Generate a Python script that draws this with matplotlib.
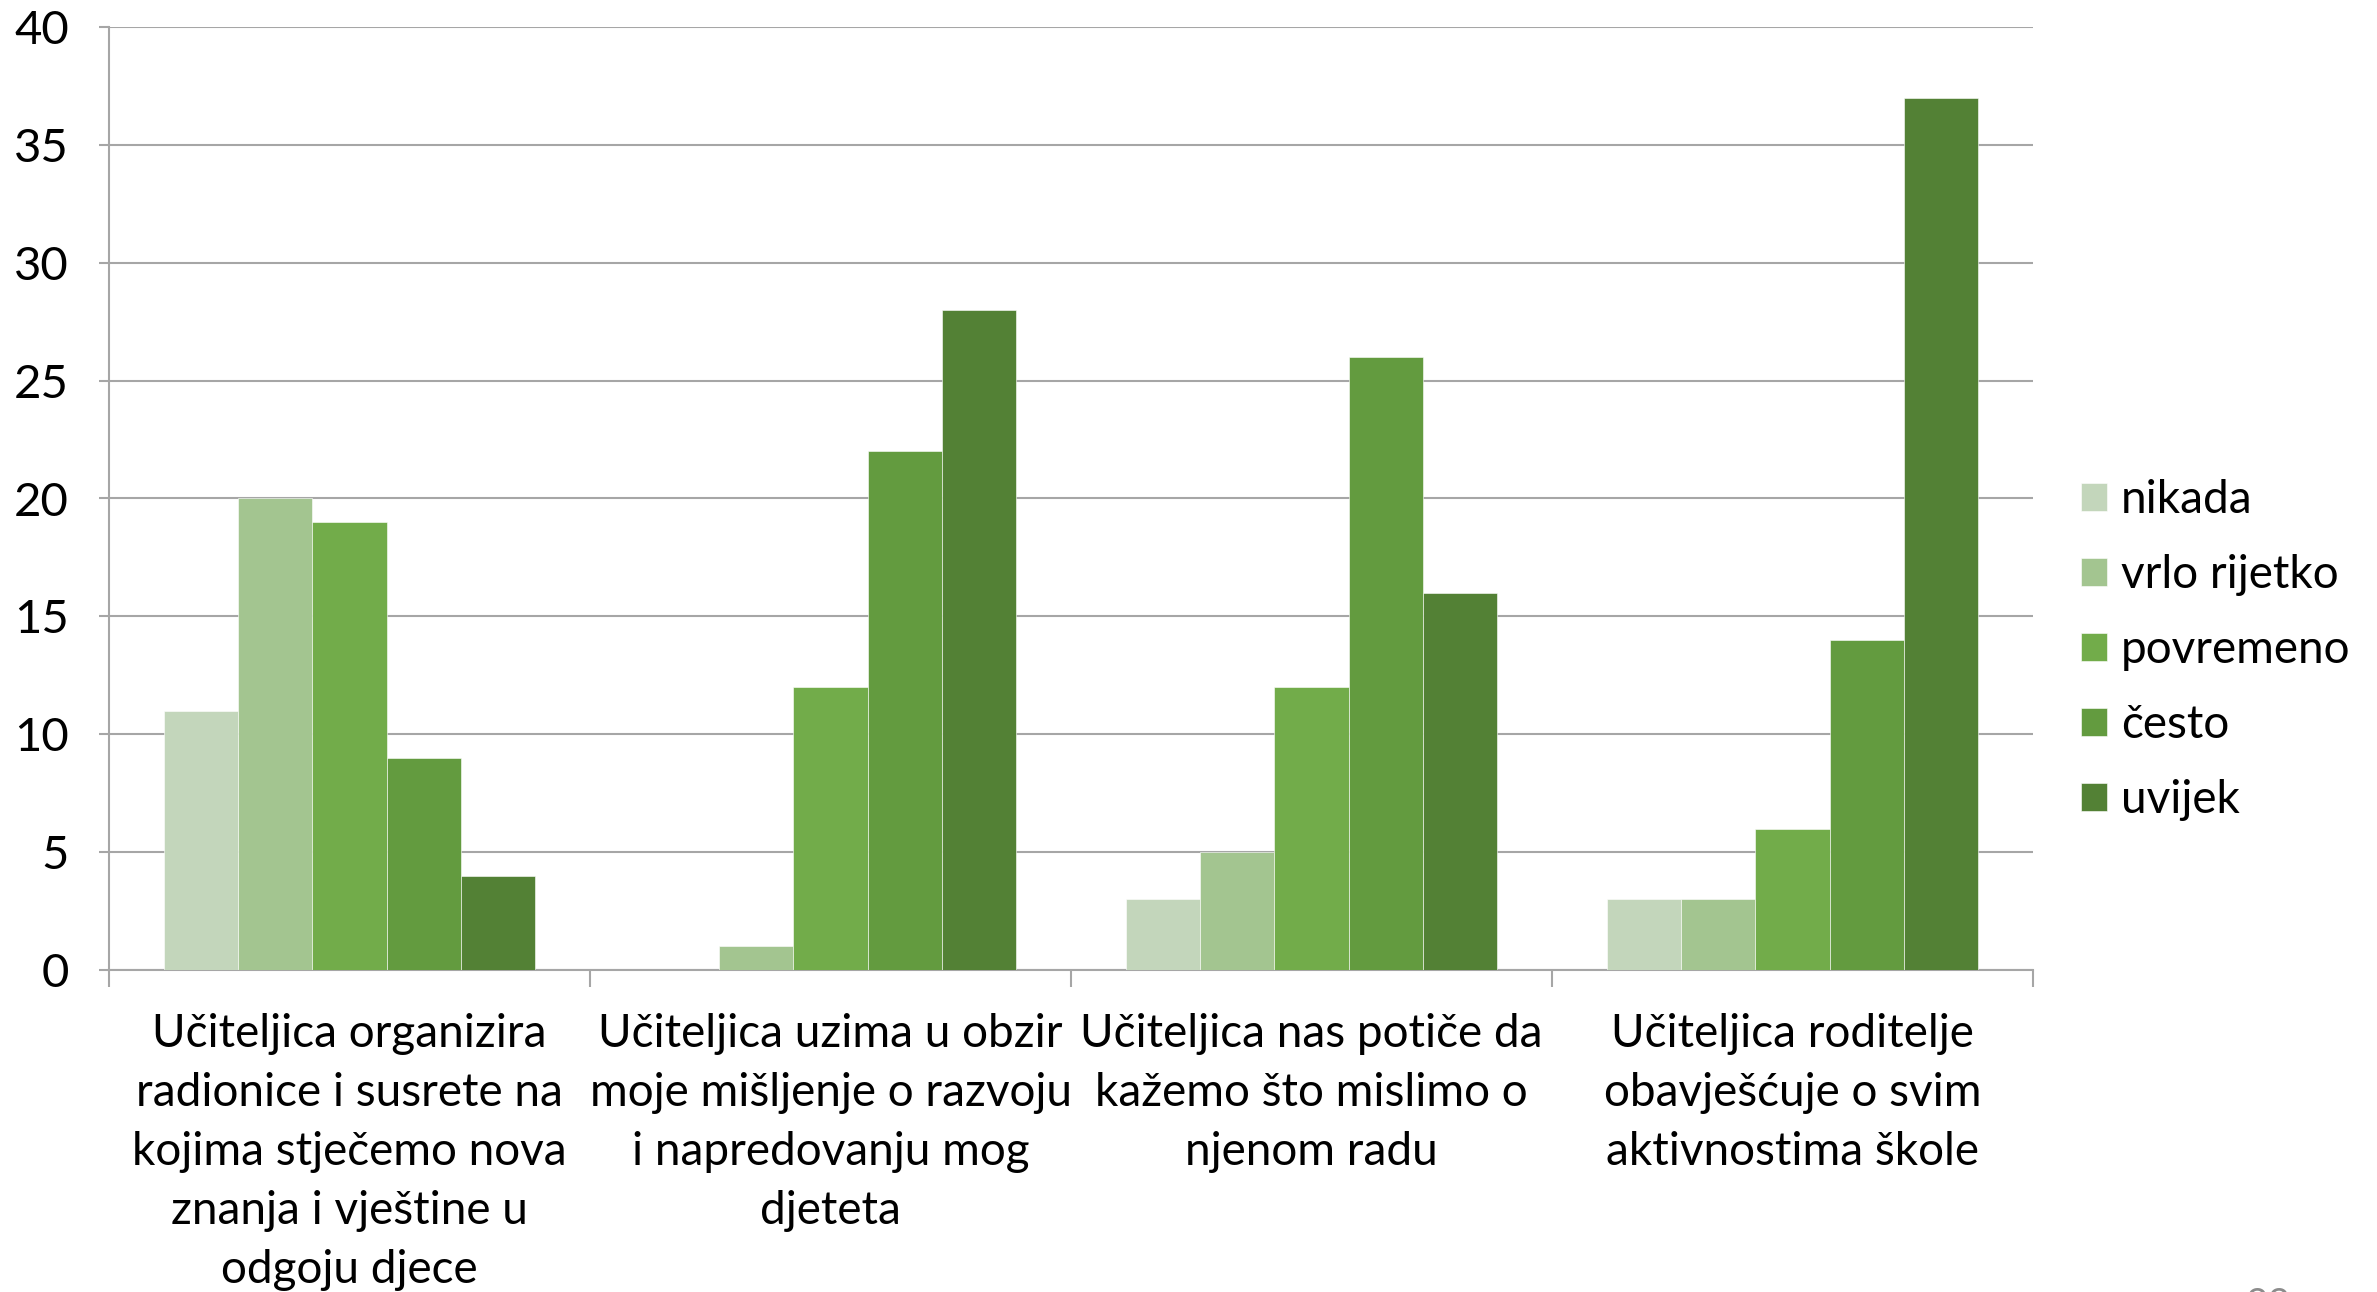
import matplotlib.pyplot as plt
import numpy as np
from matplotlib.ticker import FixedLocator, NullFormatter

plt.rcParams['font.family'] = ['Lato', 'DejaVu Sans']

# categories and answer series (counts)
categories = [
    "Učiteljica organizira\nradionice i susrete na\nkojima stječemo nova\nznanja i vještine u\nodgoju djece",
    "Učiteljica uzima u obzir\nmoje mišljenje o razvoju\ni napredovanju mog\ndjeteta",
    "Učiteljica nas potiče da\nkažemo što mislimo o\nnjenom radu",
    "Učiteljica roditelje\nobavješćuje o svim\naktivnostima škole",
]
series = ['nikada', 'vrlo rijetko', 'povremeno', 'često', 'uvijek']
nikada = [11, 0, 3, 3]
vrlo_rijetko = [20, 1, 5, 3]
povremeno = [19, 12, 12, 6]
cesto = [9, 22, 26, 14]
uvijek = [4, 28, 16, 37]
values = [nikada, vrlo_rijetko, povremeno, cesto, uvijek]
colors = ['#C3D6BB', '#A3C590', '#72AC4A', '#639B3F', '#538135']

fig = plt.figure(figsize=(23.77, 12.92), dpi=100)
ax = fig.add_axes([109 / 2377, 1 - 970 / 1292, (2033 - 109) / 2377, (970 - 27) / 1292])

x = np.arange(len(categories))
w = 0.77 / 5
for i, (name, vals, c) in enumerate(zip(series, values, colors)):
    ax.bar(x + (i - 2) * w, vals, width=w, color=c, label=name,
           edgecolor='#ffffff', linewidth=0.4, zorder=3)

ax.set_xlim(-0.5, 3.5)
ax.set_ylim(0, 40)
ax.set_yticks(range(0, 41, 5))
ax.grid(axis='y', color='#a6a6a6', linewidth=1.5, zorder=0)

# category separators as major ticks, labels on minor ticks
ax.xaxis.set_major_locator(FixedLocator([-0.5, 0.5, 1.5, 2.5, 3.5]))
ax.xaxis.set_major_formatter(NullFormatter())
ax.xaxis.set_minor_locator(FixedLocator(x))
ax.set_xticklabels(categories, minor=True, fontsize=33, linespacing=1.5)
ax.tick_params(axis='x', which='major', length=12, width=1.5, color='#a6a6a6')
ax.tick_params(axis='x', which='minor', length=0, pad=31)
ax.tick_params(axis='y', length=7, width=1.5, color='#a6a6a6', labelsize=34, pad=22)

for s in ['top', 'right']:
    ax.spines[s].set_visible(False)
for s in ['left', 'bottom']:
    ax.spines[s].set_color('#a6a6a6')
    ax.spines[s].set_linewidth(1.5)

fig.legend(loc='center left', bbox_to_anchor=(2040 / 2377, 1 - 650 / 1292),
           frameon=False, fontsize=33, handlelength=0.57, handleheight=0.57,
           handletextpad=0.3, labelspacing=0.72)

# slide number, mostly cut off at the bottom edge
fig.text(2268 / 2377, 1 - 1287 / 1292, '22', color='#8c8c8c', fontsize=28,
         ha='center', va='top')

fig.savefig('out.png', dpi=100)
